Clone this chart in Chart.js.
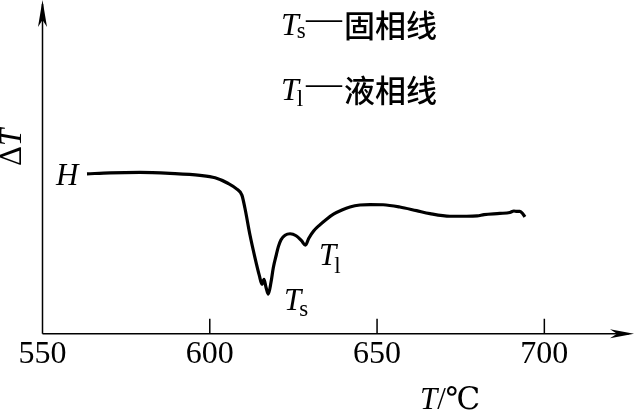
<!DOCTYPE html>
<html>
<head>
<meta charset="utf-8">
<script src="https://cdn.jsdelivr.net/npm/chart.js@4/dist/chart.umd.min.js"></script>
<style>
  html, body { margin: 0; padding: 0; background: #fff; }
  #dta { display: block; }
</style>
</head>
<body>
<canvas id="dta" width="635" height="411"></canvas>
<script>
// DTA curve, temperatures in °C
const temps = [563.3, 570.2, 579.1, 588.1, 597.1, 601.6, 605.4, 608.1, 609.6, 610.5,
  612.0, 613.5, 614.8, 615.6, 616.2, 616.8, 617.5, 618.3, 619.0, 619.9,
  620.5, 621.3, 622.5, 624.0, 625.8, 627.4, 628.6, 629.6, 631.1, 632.9,
  635.0, 637.1, 639.5, 641.9, 644.9, 647.9, 651.8, 656.8, 661.8, 665.8,
  671.8, 676.8, 679.9, 682.0, 686.7, 689.7, 690.9, 691.8, 692.7, 693.6, 694.2]
// ΔT, arbitrary units
const deltaT = [161.5, 162.5, 163, 162, 160, 157.5, 152, 146, 140, 127,
  100, 77, 59, 50, 55, 47, 40, 52, 67, 80,
  88, 95, 99.5, 101, 99, 94, 89.5, 96.5, 104, 110,
  116, 121, 125, 128, 130, 130.5, 130.3, 128, 124.3, 121.3,
  118.7, 118.7, 119, 120.3, 121.5, 122.5, 124, 123.5, 123.5, 121, 118]
const xTicks = [550, 600, 650, 700]

const serif = "'Liberation Serif', 'DejaVu Serif', serif"
const cjk = "'Noto Sans CJK SC', sans-serif"

function put(ctx, txt, x, y, font, base) {
    ctx.font = font
    ctx.textBaseline = base || 'alphabetic'
    ctx.fillText(txt, x, y)
    return x + ctx.measureText(txt).width
}

const axesAndText = {
    id: 'axesAndText',
    afterDraw(chart) {
        const ctx = chart.ctx
        const area = chart.chartArea
        const xs = chart.scales.x
        const x0 = xs.getPixelForValue(550)
        const y0 = area.bottom
        ctx.save()
        ctx.strokeStyle = '#000'
        ctx.fillStyle = '#000'
        ctx.lineWidth = 1.5

        // axes
        ctx.beginPath()
        ctx.moveTo(x0, y0)
        ctx.lineTo(x0, area.top + 4)
        ctx.moveTo(x0, y0)
        ctx.lineTo(area.right - 4, y0)
        xTicks.slice(1).forEach(v => {
            const px = xs.getPixelForValue(v)
            ctx.moveTo(px, y0)
            ctx.lineTo(px, y0 - 15)
        })
        ctx.stroke()

        // arrow heads
        ctx.beginPath()
        ctx.moveTo(x0, area.top)
        ctx.lineTo(x0 - 4.5, area.top + 27)
        ctx.lineTo(x0, area.top + 20)
        ctx.lineTo(x0 + 4.5, area.top + 27)
        ctx.closePath()
        ctx.fill()
        ctx.beginPath()
        ctx.moveTo(area.right + 1, y0)
        ctx.lineTo(area.right - 23, y0 - 4.5)
        ctx.lineTo(area.right - 16, y0)
        ctx.lineTo(area.right - 23, y0 + 4.5)
        ctx.closePath()
        ctx.fill()

        // legend text
        let x = put(ctx, 'T', 281, 35, 'italic 32px ' + serif)
        put(ctx, 's', x - 2, 38, '23px ' + serif)
        put(ctx, '—', 306, 30, '36px ' + serif)
        put(ctx, '固相线', 344, 25, '500 31px ' + cjk, 'middle')
        x = put(ctx, 'T', 281, 100, 'italic 32px ' + serif)
        put(ctx, 'l', x - 2, 106, '23px ' + serif)
        put(ctx, '—', 306, 95, '36px ' + serif)
        put(ctx, '液相线', 344, 90, '500 31px ' + cjk, 'middle')

        // curve labels
        put(ctx, 'H', 56, 185, 'italic 31px ' + serif)
        x = put(ctx, 'T', 284, 310, 'italic 31px ' + serif)
        put(ctx, 's', x - 2, 316, '23px ' + serif)
        x = put(ctx, 'T', 319, 265, 'italic 31px ' + serif)
        put(ctx, 'l', x - 2, 273, '23px ' + serif)

        // x title
        x = put(ctx, 'T', 420, 409, 'italic 31px ' + serif)
        put(ctx, '/℃', x, 409, '31px ' + serif)

        // y title, rotated
        ctx.translate(21, 166)
        ctx.rotate(-Math.PI / 2)
        x = put(ctx, 'Δ', 0, 0, '31px ' + serif)
        put(ctx, 'T', x, 0, 'italic 31px ' + serif)
        ctx.restore()
    }
}

const config = {
    type: 'line',
    data: {
        datasets: [{
            label: 'ΔT',
            data: temps.map((t, i) => ({ x: t, y: deltaT[i] })),
            borderColor: '#000',
            borderWidth: 3.2,
            pointRadius: 0,
            cubicInterpolationMode: 'monotone',
            fill: false
        }]
    },
    options: {
        responsive: false,
        animation: false,
        devicePixelRatio: 1,
        layout: { padding: { left: 42.5, right: 2, top: 0, bottom: 34.8 } },
        plugins: { legend: { display: false }, tooltip: { enabled: false } },
        scales: {
            x: {
                type: 'linear',
                min: 550,
                max: 726.5,
                afterBuildTicks: s => { s.ticks = xTicks.map(v => ({ value: v })) },
                grid: { display: false, drawTicks: false },
                border: { display: false },
                ticks: {
                    padding: 2,
                    maxRotation: 0,
                    color: '#000',
                    font: { family: serif, size: 32 }
                }
            },
            y: {
                display: false,
                min: 0,
                max: 337
            }
        }
    },
    plugins: [axesAndText]
}

const dtaChart = new Chart(document.getElementById('dta'), config)
</script>
</body>
</html>
